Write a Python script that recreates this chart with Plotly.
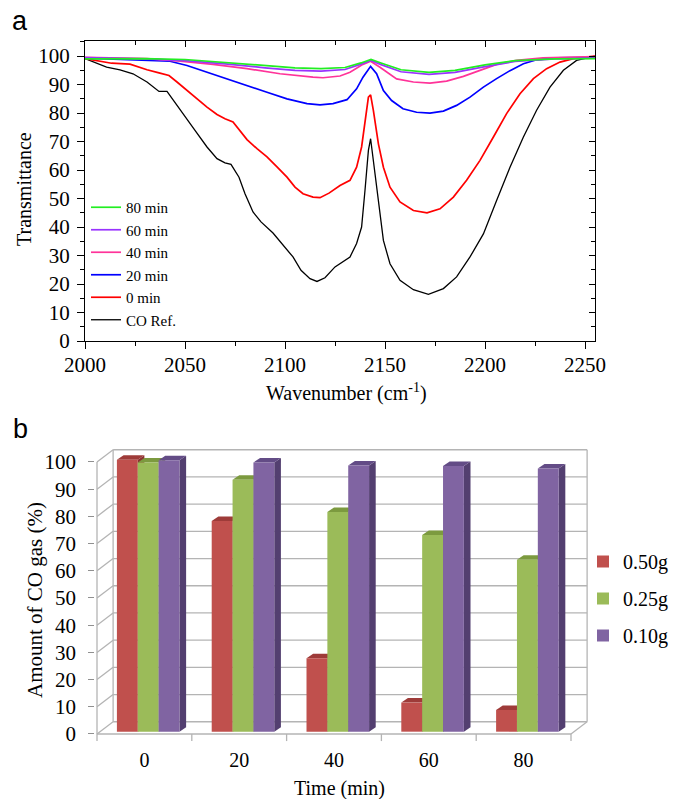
import plotly.graph_objects as go

# ---------------- panel (a): FTIR spectra ----------------
ref_wn = [2000, 2005, 2010.8, 2017.5, 2024, 2031, 2037, 2041, 2046, 2051, 2055, 2061, 2066, 2070, 2073,
          2077, 2080, 2084, 2088, 2094, 2099, 2104, 2108, 2112.5, 2116, 2120, 2125, 2129, 2132.5, 2135.8,
          2138.3, 2140, 2141.7, 2142.8, 2144.2, 2146.7, 2149.2, 2152.5, 2157.5, 2164.2, 2171.7, 2179.2,
          2185.8, 2192.5, 2199.2, 2205.8, 2212.5, 2219.2, 2225.8, 2232.5, 2239.2, 2245.8, 2250, 2255]
ref_t = [99.1, 97.8, 96.1, 95.2, 93.8, 90.9, 87.6, 87.6, 82.7, 77.4, 73.9, 68.1, 64.0, 62.5, 62.0,
         57.5, 51.7, 45.3, 41.8, 37.9, 33.6, 29.5, 24.8, 21.9, 20.9, 22.2, 26.0, 28.0, 29.5, 34.2,
         40.0, 52.9, 66.9, 71.0, 63.4, 48.2, 35.3, 27.1, 21.3, 18.0, 16.4, 18.4,
         22.5, 29.5, 37.6, 49.3, 61.0, 71.6, 81.0, 89.1, 95.0, 98.5, 99.3, 100.0]

m0_wn = [2000, 2007.5, 2013.3, 2022.5, 2031, 2037, 2042, 2046, 2051, 2056, 2061, 2066, 2070, 2074, 2077.5,
         2081, 2086, 2091, 2096, 2101, 2105, 2109, 2114, 2117.5, 2122, 2127.5, 2132.5, 2135.8, 2138.3,
         2140, 2141.7, 2142.8, 2144.2, 2146.7, 2149.2, 2152.5, 2157.5, 2164.2, 2171, 2177.5, 2184.2,
         2190.8, 2197.5, 2204.2, 2210.8, 2217.5, 2224.2, 2230.8, 2237.5, 2244.2, 2250, 2255]
m0_t = [99.1, 98.2, 97.5, 97.2, 95.2, 94.1, 93.2, 90.9, 87.9, 85.0, 82.1, 79.5, 78.0, 76.9, 74.0,
        70.7, 67.5, 64.6, 61.1, 57.5, 54.0, 51.7, 50.5, 50.3, 51.9, 54.6, 56.4, 61.0, 68.1,
        77.4, 85.6, 86.4, 80.9, 69.2, 61.0, 54.0, 48.8, 45.8, 45.0, 46.4, 50.5,
        56.4, 63.4, 71.6, 79.8, 86.8, 92.1, 95.6, 97.9, 99.1, 99.6, 100.0]

m20_wn = [2000, 2014, 2031, 2042.5, 2051, 2061, 2071, 2081, 2091, 2101, 2111, 2117.5, 2124, 2131, 2135.8,
          2139, 2142.8, 2145.8, 2149.2, 2153.3, 2159, 2165.8, 2172.5, 2179.2, 2185.8, 2192.5, 2199.2,
          2205.8, 2212.5, 2219.2, 2225.8, 2235.8, 2245, 2255]
m20_t = [99.3, 99.0, 98.7, 98.2, 96.7, 94.3, 92.0, 89.7, 87.3, 85.0, 83.3, 82.9, 83.3, 84.7, 88.5,
         92.6, 96.4, 93.8, 87.9, 84.4, 81.5, 80.3, 80.0, 80.7, 82.7, 85.6, 89.1,
         92.1, 94.9, 97.3, 98.7, 99.4, 99.5, 99.6]

m40_wn = [2000, 2031, 2047.5, 2064, 2081, 2097.5, 2114, 2119, 2127.5, 2132.5, 2139, 2142.8, 2147.5,
          2155.8, 2164.2, 2172.5, 2180.8, 2189.2, 2197.5, 2205.8, 2215.8, 2229, 2255]
m40_t = [99.6, 99.1, 98.2, 97.1, 95.6, 93.8, 92.6, 92.4, 93.0, 94.3, 97.1, 98.2, 96.1,
         92.0, 90.9, 90.5, 91.2, 92.9, 95.0, 97.1, 98.5, 99.4, 99.8]

m60_wn = [2000, 2030, 2050, 2070, 2090, 2105, 2118, 2130, 2138, 2143, 2148, 2158, 2172, 2185, 2200, 2215, 2235, 2255]
m60_t = [99.5, 99.0, 98.4, 97.3, 95.9, 95.0, 94.7, 95.3, 97.2, 98.5, 97.0, 94.5, 93.6, 94.3, 96.3, 98.1, 99.0, 99.3]

m80_wn = [2000, 2030, 2050, 2070, 2090, 2105, 2118, 2130, 2138, 2143, 2148, 2158, 2172, 2185, 2200, 2215, 2235, 2255]
m80_t = [99.0, 99.1, 98.8, 97.8, 96.6, 95.9, 95.6, 96.0, 97.6, 98.8, 97.6, 95.2, 94.3, 95.0, 96.9, 98.4, 99.0, 99.1]

spectra_names = ["CO Ref.", "0 min", "20 min", "40 min", "60 min", "80 min"]
spectra_colors = ["#000000", "#FF0000", "#0000FF", "#FF3399", "#9933FF", "#22EE22"]
wn_ticks = [2000, 2050, 2100, 2150, 2200, 2250]
t_ticks = [0, 10, 20, 30, 40, 50, 60, 70, 80, 90, 100]

# ---------------- panel (b): CO amount bars ----------------
time_labels = ["0", "20", "40", "60", "80"]
co_050g = [100, 77.5, 27.0, 10.7, 8.0]
co_025g = [99.0, 92.6, 80.8, 72.3, 63.2]
co_010g = [99.8, 99.0, 97.9, 97.7, 96.8]
mass_labels = ["0.50g", "0.25g", "0.10g"]
co_ticks = [0, 10, 20, 30, 40, 50, 60, 70, 80, 90, 100]

# ---------------- styling / geometry ----------------
W, H = 674, 799
SERIF = "Liberation Serif"
SANS = "Liberation Sans"


def fx(p):
    return p / W


def fy(p):
    return 1 - p / H


fig = go.Figure()

series = [(ref_wn, ref_t), (m0_wn, m0_t), (m20_wn, m20_t), (m40_wn, m40_t), (m60_wn, m60_t), (m80_wn, m80_t)]
for (wx, ty), name, col in zip(series, spectra_names, spectra_colors):
    fig.add_trace(go.Scatter(x=wx, y=ty, mode="lines", name=name,
                             line=dict(color=col, width=1.3 if col == "#000000" else 1.7),
                             xaxis="x", yaxis="y", legend="legend"))
# helper (empty) trace so the inward mirror-tick axes on top/right are drawn
fig.add_trace(go.Scatter(x=[None], y=[None], xaxis="x3", yaxis="y3", showlegend=False,
                         hoverinfo="skip"))

# bottom panel geometry (in axis units)
XU = 94.8    # px per category
YU = 2.72    # px per percent
WDX, WDY = 0.17, 4.5      # depth of the back wall
BASE = 0.85              # bars stand mid-depth on the floor
BDX, BDY = 0.07, 1.65     # depth of each bar
BW = 0.22
offsets = [-0.29, -0.07, 0.15]
front = ["#C0504D", "#9BBB59", "#8064A2"]
topc = ["#9E3B39", "#7C9A3F", "#634C86"]
sidec = ["#8A3331", "#6C8836", "#533F70"]
series_b = [co_050g, co_025g, co_010g]

x2_lo, x2_hi = -0.52, 4.70
y2_lo, y2_hi = -2.94, 105.2
x2_left_px = 97 + (x2_lo + 0.5) * XU
x2_right_px = 97 + (x2_hi + 0.5) * XU
y2_bot_px = 734 - y2_lo * YU
y2_top_px = 734 - y2_hi * YU

for vals, name, off, fc in zip(series_b, mass_labels, offsets, front):
    fig.add_trace(go.Bar(x=list(range(len(time_labels))), y=vals, base=BASE, offset=off, width=BW,
                         name=name, marker=dict(color=fc, line=dict(width=0)),
                         xaxis="x2", yaxis="y2", legend="legend2", legendgroup=name))

shapes = []
grid_col = "#B4B4B4"


def seg(x0, y0, x1, y1, col=grid_col, w=1.3):
    shapes.append(dict(type="line", xref="x2", yref="y2", x0=x0, y0=y0, x1=x1, y1=y1,
                       line=dict(color=col, width=w), layer="below"))


ncat = len(time_labels)
left, right = -0.5, ncat - 0.5
for v in co_ticks:
    seg(left, v, left + WDX, v + WDY)
    seg(left + WDX, v + WDY, right + WDX, v + WDY)
seg(left, 0, left, co_ticks[-1])
seg(left + WDX, WDY, left + WDX, co_ticks[-1] + WDY)
seg(right + WDX, WDY, right + WDX, co_ticks[-1] + WDY)
seg(left, 0, right, 0)
seg(right, 0, right + WDX, WDY)
for k in range(ncat + 1):
    seg(k - 0.5, 0, k - 0.5, -2.6)


def poly(pts, col):
    d = "M" + " L".join(f"{x:.4f},{y:.4f}" for x, y in pts) + " Z"
    shapes.append(dict(type="path", xref="x2", yref="y2", path=d, fillcolor=col,
                       line=dict(width=0), layer="below"))


for vals, off, tc, sc in zip(series_b, offsets, topc, sidec):
    for i, v in enumerate(vals):
        x0 = i + off
        x1 = x0 + BW
        y0 = BASE
        y1 = BASE + v
        poly([(x1, y0), (x1 + BDX, y0 + BDY), (x1 + BDX, y1 + BDY), (x1, y1)], sc)
        poly([(x0, y1), (x1, y1), (x1 + BDX, y1 + BDY), (x0 + BDX, y1 + BDY)], tc)

tick_font = dict(family=SERIF, size=21, color="black")
top_x_dom = [fx(85), fx(595)]
top_y_dom = [fy(341), fy(41)]

fig.update_layout(
    width=W, height=H, margin=dict(l=0, r=0, t=0, b=0, autoexpand=False),
    paper_bgcolor="white", plot_bgcolor="rgba(0,0,0,0)",
    barmode="overlay",
    shapes=shapes,
    xaxis=dict(domain=top_x_dom, range=[2000, 2255], anchor="y",
               tickvals=wn_ticks, ticks="outside", ticklen=7, tickwidth=1, tickcolor="black",
               minor=dict(dtick=25, tick0=2000, ticks="outside", ticklen=4, tickcolor="black"),
               showline=True, linecolor="black", linewidth=1, mirror=True,
               showgrid=False, zeroline=False, tickfont=tick_font, ticklabelstandoff=-2),
    yaxis=dict(domain=top_y_dom, range=[0, 105.3], anchor="x",
               tickvals=t_ticks, ticks="outside", ticklen=7, tickwidth=1, tickcolor="black",
               minor=dict(dtick=5, tick0=0, ticks="outside", ticklen=4, tickcolor="black"),
               showline=True, linecolor="black", linewidth=1, mirror=True,
               showgrid=False, zeroline=False, tickfont=tick_font, ticklabelstandoff=3),
    xaxis3=dict(overlaying="x", side="top", anchor="y3", range=[2000, 2255],
                tickvals=wn_ticks, ticks="inside", ticklen=6, tickcolor="black",
                minor=dict(dtick=25, tick0=2000, ticks="inside", ticklen=4, tickcolor="black"),
                showticklabels=False, showline=False, showgrid=False, zeroline=False),
    yaxis3=dict(overlaying="y", side="right", anchor="x3", range=[0, 105.3],
                tickvals=t_ticks, ticks="inside", ticklen=6, tickcolor="black",
                minor=dict(dtick=5, tick0=0, ticks="inside", ticklen=4, tickcolor="black"),
                showticklabels=False, showline=False, showgrid=False, zeroline=False),
    xaxis2=dict(domain=[fx(x2_left_px), fx(x2_right_px)], range=[x2_lo, x2_hi], anchor="y2",
                tickvals=list(range(ncat)), ticktext=time_labels, ticks="",
                showline=False, showgrid=False, zeroline=False,
                tickfont=dict(family=SERIF, size=20, color="black"), ticklabelstandoff=4),
    yaxis2=dict(domain=[fy(y2_bot_px), fy(y2_top_px)], range=[y2_lo, y2_hi], anchor="x2",
                tickvals=co_ticks, ticks="outside", ticklen=6, tickcolor="#909090",
                showline=False, showgrid=False, zeroline=False,
                tickfont=dict(family=SERIF, size=21, color="black"), ticklabelstandoff=8),
    legend=dict(x=fx(86), y=fy(191), xanchor="left", yanchor="top", traceorder="reversed",
                font=dict(family=SERIF, size=15, color="black"), bgcolor="rgba(0,0,0,0)",
                itemwidth=30, tracegroupgap=0),
    legend2=dict(x=fx(583), y=fy(542), xanchor="left", yanchor="top", traceorder="grouped",
                 font=dict(family=SERIF, size=20, color="black"), bgcolor="rgba(0,0,0,0)",
                 tracegroupgap=8),
    showlegend=True,
)

annots = [
    dict(text="a", x=fx(20), y=fy(21), font=dict(family=SANS, size=27, color="black")),
    dict(text="b", x=fx(20), y=fy(429), font=dict(family=SANS, size=27, color="black")),
    dict(text="Transmittance", x=fx(24), y=fy(189), textangle=-90,
         font=dict(family=SERIF, size=20, color="black")),
    dict(text="Wavenumber (cm<sup>-1</sup>)", x=fx(346), y=fy(392),
         font=dict(family=SERIF, size=20, color="black")),
    dict(text="Amount of CO gas (%)", x=fx(35), y=fy(600), textangle=-90,
         font=dict(family=SERIF, size=21, color="black")),
    dict(text="Time (min)", x=fx(339), y=fy(788),
         font=dict(family=SERIF, size=20, color="black")),
]
for a in annots:
    a.update(xref="paper", yref="paper", xanchor="center", yanchor="middle", showarrow=False)
fig.update_layout(annotations=annots)

fig.write_html("out.html", config={"displayModeBar": False},
               post_script="document.body.style.margin='0';document.body.style.padding='0';")
